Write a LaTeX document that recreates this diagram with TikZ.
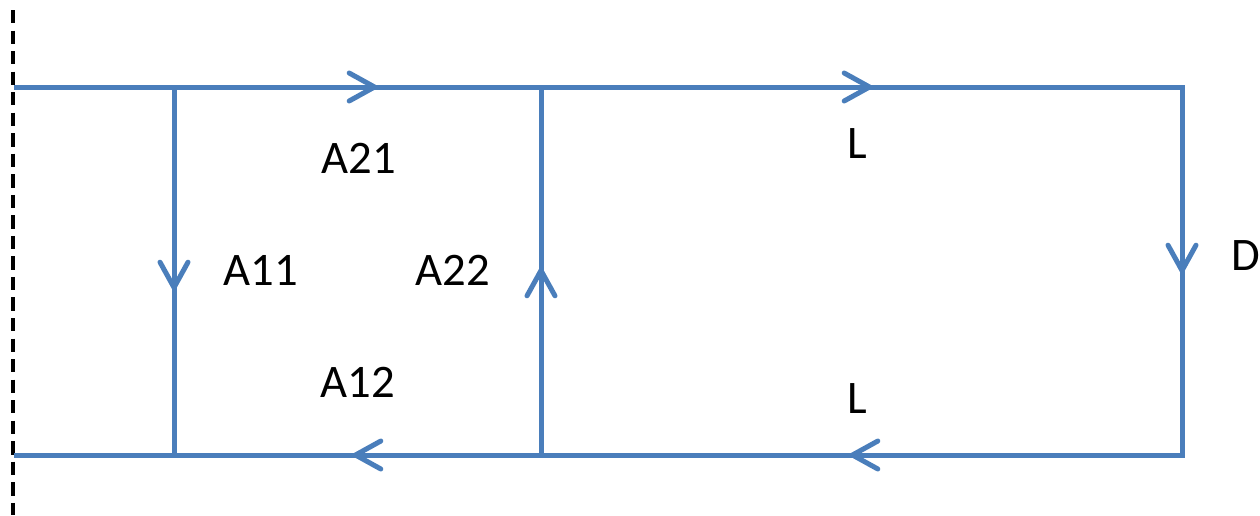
\documentclass[tikz,border=0pt]{standalone}
\usepackage{fontspec}
\setmainfont{Carlito}
\usetikzlibrary{arrows.meta}
\definecolor{flowblue}{HTML}{4A7EBB}
\begin{document}
\begin{tikzpicture}[x=0.75pt,y=-0.75pt,
  flow/.style={draw=flowblue, line width=3.75pt},
  tipped/.style={flow, -{Straight Barb[length=19pt,width=21pt,round]}},
  axis/.style={draw=black, line width=3.3pt, dash pattern=on 10pt off 5.4pt},
  lbl/.style={font=\fontsize{35}{40}\selectfont, anchor=base, inner sep=0pt}]
\useasboundingbox (0,0) rectangle (1260,515);
% corners
\coordinate (TL) at (14,87);
\coordinate (T1) at (174,87);
\coordinate (T2) at (541,87);
\coordinate (TR) at (1182,87);
\coordinate (BR) at (1182,455);
\coordinate (B2) at (541,455);
\coordinate (B1) at (174,455);
\coordinate (BL) at (14,455);
% arrow tips
\coordinate (aT1) at (377,87);
\coordinate (aT2) at (872,87);
\coordinate (aR) at (1182,273);
\coordinate (aB2) at (850,455);
\coordinate (aB1) at (353,455);
\coordinate (aV1) at (174,290);
\coordinate (aV2) at (541,268);
% axis
\coordinate (axTop) at (13,10);
\coordinate (axBot) at (13,515);
\draw[axis] (axTop) -- (axBot);
% main lines
\draw[flow] (TL) -- (TR);
\draw[flow] (BL) -- (BR);
\draw[flow, line cap=rect] (TR) -- (BR);
\draw[flow] (T1) -- (B1);
\draw[flow] (T2) -- (B2);
% arrows
\draw[tipped] (T1) -- (aT1);
\draw[tipped] (T2) -- (aT2);
\draw[tipped] (TR) -- (aR);
\draw[tipped] (BR) -- (aB2);
\draw[tipped] (B2) -- (aB1);
\draw[tipped] (T1) -- (aV1);
\draw[tipped] (B2) -- (aV2);
% labels
\node[lbl] (a21) at (359,173) {A21};
\node[lbl] (a11) at (261,285) {A11};
\node[lbl] (a22) at (453,285) {A22};
\node[lbl] (a12) at (358,397) {A12};
\node[lbl] (l1) at (857,158) {L};
\node[lbl] (l2) at (857,413) {L};
\node[lbl] (d) at (1246,270) {D};
\end{tikzpicture}
\end{document}
